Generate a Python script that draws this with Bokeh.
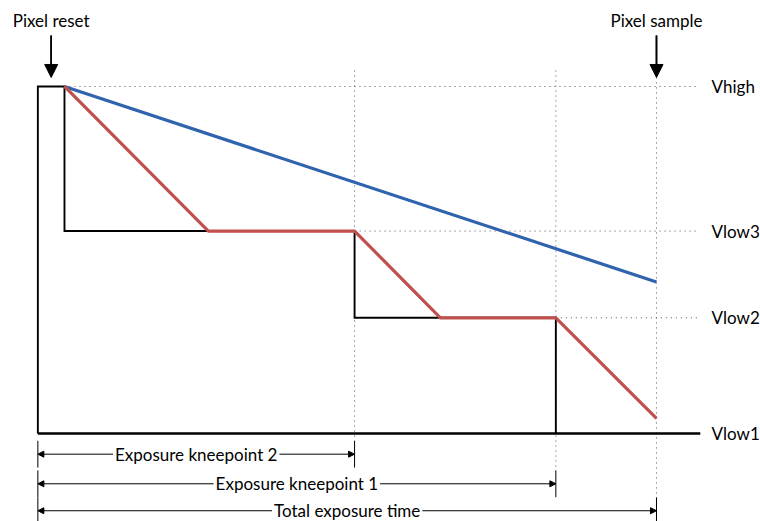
from bokeh.plotting import figure
from bokeh.models import Range1d, Arrow, NormalHead, Label
from bokeh.embed import file_html
from bokeh.resources import INLINE

# ---------------- data ----------------
# time (arbitrary units: 0 = end of reset, 100 = pixel sample)
t_reset_start = -4.5
t_reset_end = 0.0
t_knee2 = 49.0
t_knee1 = 83.0
t_sample = 100.0

# voltage levels
level_names = ["Vhigh", "Vlow3", "Vlow2", "Vlow1"]
level_values = [3.0, 1.75, 1.0, 0.0]
level_start = [t_reset_end, t_knee2, t_knee1, t_reset_start]

# barrier voltage (black)
barrier_t = [t_reset_start, t_reset_start, t_reset_end, t_reset_end,
             t_knee2, t_knee2, t_knee1, t_knee1]
barrier_v = [0.0, 3.0, 3.0, 1.75, 1.75, 1.0, 1.0, 0.0]

# dim pixel (blue)
dim_t = [0.0, 100.0]
dim_v = [3.0, 1.31]

# bright pixel (red)
bright_t = [0.0, 24.3, 49.0, 63.5, 83.0, 100.0]
bright_v = [3.0, 1.75, 1.75, 1.0, 1.0, 0.13]

# dimension annotations
dim_names = ["Exposure kneepoint 2", "Exposure kneepoint 1", "Total exposure time"]
dim_end = [t_knee2, t_knee1, t_sample]

# ---------------- layout ----------------
FONT = "Lato"
FS = "17px"
X_LEFT, X_RIGHT = -10.81, 117.57
Y_BOTTOM, Y_TOP = -0.761, 3.7435
line_end_t = 107.4
dot_end_t = 107.0
label_t = 109.3
dot_top_v = 3.138
row_v = [-0.179, -0.435, -0.668]
tick_half = 0.116
arrow_top_v = 3.44
arrow_tip_v = 3.078
title_v = 3.571

p = figure(width=760, height=521, output_backend="svg", toolbar_location=None,
           x_range=Range1d(X_LEFT, X_RIGHT), y_range=Range1d(Y_BOTTOM, Y_TOP),
           min_border=0)
p.axis.visible = False
p.grid.visible = False
p.outline_line_color = None
p.background_fill_color = "white"
p.border_fill_color = "white"

DOT = dict(line_color="#555555", line_width=1, line_dash="1 4")

# horizontal dotted level lines (Vhigh, Vlow3, Vlow2)
p.segment(x0=level_start[:3], y0=level_values[:3], x1=[dot_end_t] * 3,
          y1=level_values[:3], **DOT)
# vertical dotted time markers
p.segment(x0=dim_end, y0=[dot_top_v, dot_top_v, arrow_tip_v], x1=dim_end,
          y1=[r + tick_half for r in row_v], **DOT)

# Vlow1 baseline
p.line([t_reset_start, line_end_t], [level_values[3]] * 2, line_color="black", line_width=2.5)
# barrier signal
p.line(barrier_t, barrier_v, line_color="black", line_width=1.9, line_join="miter")
# dim pixel
p.line(dim_t, dim_v, line_color="#2f63ad", line_width=3.2)
# bright pixel
p.line(bright_t, bright_v, line_color="#c0504d", line_width=3.2, line_join="round")

# level labels
for name, v in zip(level_names, level_values):
    p.add_layout(Label(x=label_t, y=v, text=name, text_align="left",
                       text_baseline="middle", text_font=FONT,
                       text_font_size=FS, text_color="black"))

# top arrows and labels
tops = [((t_reset_start + t_reset_end) / 2, "Pixel reset"), (t_sample, "Pixel sample")]
top_x = [tx for tx, _ in tops]
p.segment(x0=top_x, y0=[arrow_top_v] * 2, x1=top_x, y1=[arrow_tip_v + 0.1] * 2,
          line_color="black", line_width=1.6)
for tx, txt in tops:
    p.add_layout(Arrow(end=NormalHead(size=13, fill_color="black", line_color="black"),
                       x_start=tx, y_start=arrow_top_v, x_end=tx, y_end=arrow_tip_v,
                       line_width=1.6, line_color="black"))
    p.add_layout(Label(x=tx, y=title_v, text=txt, text_align="center",
                       text_baseline="middle", text_font=FONT,
                       text_font_size=FS, text_color="black"))

# dimension arrows
for name, te, rv in zip(dim_names, dim_end, row_v):
    p.segment(x0=[t_reset_start, te], y0=[rv - tick_half] * 2,
              x1=[t_reset_start, te], y1=[rv + tick_half] * 2,
              line_color="black", line_width=1)
    p.add_layout(Arrow(start=NormalHead(size=6, fill_color="black", line_color="black"),
                       end=NormalHead(size=6, fill_color="black", line_color="black"),
                       x_start=t_reset_start, y_start=rv, x_end=te, y_end=rv,
                       line_width=1, line_color="black"))
    p.add_layout(Label(x=(t_reset_start + te) / 2, y=rv, text=name,
                       text_align="center", text_baseline="middle",
                       text_font=FONT, text_font_size=FS, text_color="black",
                       background_fill_color="white", padding=2))

open("out.html", "w").write(file_html(p, INLINE))
